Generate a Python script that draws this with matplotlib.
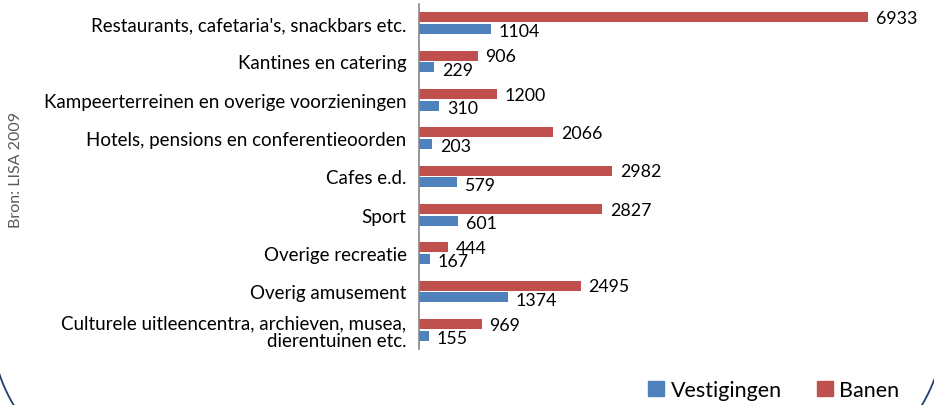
import numpy as np
import matplotlib
matplotlib.use("Agg")
import matplotlib.pyplot as plt
from matplotlib.lines import Line2D

# data (bovenaan = eerste)
categories = [
    "Restaurants, cafetaria's, snackbars etc.",
    "Kantines en catering",
    "Kampeerterreinen en overige voorzieningen",
    "Hotels, pensions en conferentieoorden",
    "Cafes e.d.",
    "Sport",
    "Overige recreatie",
    "Overig amusement",
    "Culturele uitleencentra, archieven, musea,\ndierentuinen etc.",
]
banen = [6933, 906, 1200, 2066, 2982, 2827, 444, 2495, 969]
vestigingen = [1104, 229, 310, 203, 579, 601, 167, 1374, 155]

red = "#C0504D"
blue = "#4F81BD"
W, H = 934, 406

plt.rcParams['font.family'] = ['Lato', 'DejaVu Sans']

fig = plt.figure(figsize=(W / 100, H / 100), dpi=100)
ax = fig.add_axes([419 / W, 1 - 350 / H, (905 - 419) / W, 345 / H])

y = np.arange(len(categories))
bh = 0.26
off = 0.155
ax.barh(y - off, banen, height=bh, color=red, label="Banen")
ax.barh(y + off, vestigingen, height=bh, color=blue, label="Vestigingen")

for yi, v in zip(y, banen):
    ax.text(v + 120, yi - off + 0.02, str(v), va="center", ha="left", fontsize=12.8)
for yi, v in zip(y, vestigingen):
    ax.text(v + 120, yi + off + 0.06, str(v), va="center", ha="left", fontsize=12.8)

ax.set_xlim(0, 7500)
ax.set_ylim(len(categories) - 0.5, -0.5)
ax.set_yticks(y)
ax.set_yticklabels(categories, fontsize=13.5, linespacing=1.05)
ax.tick_params(axis="y", length=0, pad=9)
ax.set_xticks([])
for s in ["top", "right", "bottom"]:
    ax.spines[s].set_visible(False)
ax.spines["left"].set_color("#868686")
ax.spines["left"].set_linewidth(1.2)

# legenda rechtsonder
handles = [plt.Rectangle((0, 0), 1, 1, color=blue), plt.Rectangle((0, 0), 1, 1, color=red)]
fig.legend(handles, ["Vestigingen", "Banen"], loc="center right",
           bbox_to_anchor=(910 / W, 1 - 391 / H), ncol=2, frameon=False,
           fontsize=15.5, handlelength=0.75, handleheight=0.75, handletextpad=0.3,
           columnspacing=1.6, borderpad=0)

fig.text(16 / W, 1 - 170 / H, "Bron: LISA 2009", rotation=90, ha="center", va="center",
         fontsize=11.5, color="#595959")

# afgeronde rand (onderste hoeken)
r = 160
t = np.linspace(0, np.pi / 2, 200)
lx = -9 + r * (1 - np.cos(t))
ly = 324 + r * np.sin(t)
rx = 944.6 - r * (1 - np.cos(t))
ry = 324 + r * np.sin(t)
for xs, ys in [(lx, ly), (rx, ry)]:
    fig.add_artist(Line2D(xs / W, 1 - ys / H, transform=fig.transFigure,
                          color="#1F3F73", linewidth=1.3))

fig.savefig("out.png", dpi=100)
